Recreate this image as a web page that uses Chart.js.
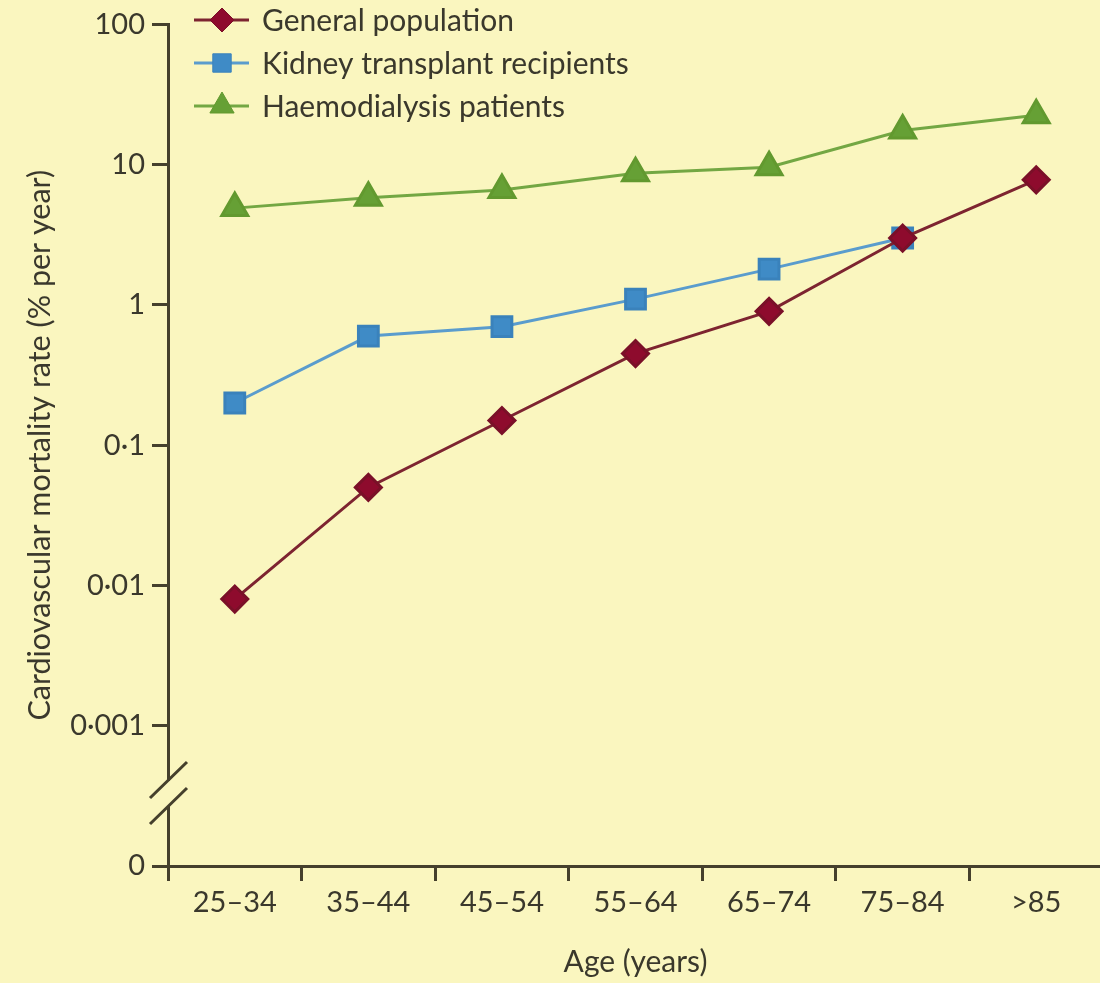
<!DOCTYPE html>
<html>
<head>
<meta charset="utf-8">
<script src="https://cdn.jsdelivr.net/npm/chart.js@4"></script>
<style>
    html, body { margin: 0; padding: 0; background: #faf6bf; overflow: hidden; }
    #wrap { width: 1121px; height: 983px; }
</style>
</head>
<body>
<div id="wrap"><canvas id="popChart" width="1121" height="983"></canvas></div>
<script>
// age groups on x axis
let ageGroups = ['25–34', '35–44', '45–54', '55–64', '65–74', '75–84', '>85']

// % per year (log scale)
let generalPop = [0.008, 0.05, 0.15, 0.45, 0.9, 3.0, 7.8]
let kidneyTx = [0.2, 0.6, 0.7, 1.1, 1.8, 3.0, null]
let haemodialysis = [4.9, 5.8, 6.6, 8.7, 9.6, 17.5, 22.5]

// y ticks, the lowest one stands for "0" below the axis break
let yTickValues = [0.0001, 0.001, 0.01, 0.1, 1, 10, 100]
let yTickLabels = ['0', '0·001', '0·01', '0·1', '1', '10', '100']

let seriesNames = ['General population', 'Kidney transplant recipients', 'Haemodialysis patients']

const BG = '#faf6bf'
const AXIS = '#45402c'
const TEXT = '#3a382c'
const FONT = 'Lato'

let datasets = [
    {
        label: seriesNames[0],
        data: generalPop,
        borderColor: '#7d2430',
        backgroundColor: '#8e0b2d',
        pointBorderColor: '#7a1028',
        pointStyle: 'rectRot',
        pointRadius: 13,
        borderWidth: 3
    },
    {
        label: seriesNames[1],
        data: kidneyTx,
        borderColor: '#5a9ccd',
        backgroundColor: '#3f8bc6',
        pointBorderColor: '#3a82bb',
        pointStyle: 'rect',
        pointRadius: 14,
        borderWidth: 3
    },
    {
        label: seriesNames[2],
        data: haemodialysis,
        borderColor: '#73a743',
        backgroundColor: '#66a035',
        pointBorderColor: '#62992f',
        pointStyle: 'triangle',
        pointRadius: 15,
        borderWidth: 3
    }
]

// legend with line + marker, drawn top left inside plot
const lineLegend = {
    id: 'lineLegend',
    afterDraw(chart) {
        let ctx = chart.ctx
        let rows = [20, 63, 106]
        ctx.save()
        for (let i in chart.data.datasets) {
            let ds = chart.data.datasets[i]
            let y = rows[i]
            ctx.strokeStyle = ds.borderColor
            ctx.lineWidth = 3
            ctx.beginPath()
            ctx.moveTo(194, y)
            ctx.lineTo(249, y)
            ctx.stroke()
            ctx.fillStyle = ds.backgroundColor
            ctx.strokeStyle = ds.pointBorderColor
            ctx.lineWidth = 1
            Chart.helpers.drawPoint(ctx, {
                pointStyle: ds.pointStyle,
                radius: ds.pointRadius - 1,
                rotation: 0,
                borderWidth: 1
            }, 222, y)
            ctx.fillStyle = TEXT
            ctx.font = '30px ' + FONT
            ctx.textAlign = 'left'
            ctx.textBaseline = 'middle'
            ctx.fillText(ds.label, 262, y + 1)
        }
        ctx.restore()
    }
}

// axis break marks between 0 and 0.001
const axisBreak = {
    id: 'axisBreak',
    afterDraw(chart) {
        let ctx = chart.ctx
        let x = chart.chartArea.left
        ctx.save()
        ctx.fillStyle = BG
        ctx.fillRect(x - 3, 781, 6, 25)
        ctx.strokeStyle = AXIS
        ctx.lineWidth = 3
        ctx.beginPath()
        ctx.moveTo(x - 18, 798)
        ctx.lineTo(x + 19, 762)
        ctx.moveTo(x - 18, 824)
        ctx.lineTo(x + 19, 788)
        ctx.stroke()
        ctx.restore()
    }
}

const bgPlugin = {
    id: 'bgPlugin',
    beforeDraw(chart) {
        let ctx = chart.ctx
        ctx.save()
        ctx.fillStyle = BG
        ctx.fillRect(0, 0, chart.width, chart.height)
        ctx.restore()
    }
}

const config = {
    type: 'line',
    data: {
        labels: ageGroups,
        datasets: datasets
    },
    options: {
        responsive: false,
        animation: false,
        spanGaps: false,
        layout: {
            padding: {top: 24, right: 0, bottom: 0, left: 0}
        },
        plugins: {
            legend: {display: false},
            tooltip: {enabled: false}
        },
        elements: {
            line: {tension: 0},
            point: {borderWidth: 1}
        },
        scales: {
            x: {
                type: 'category',
                offset: true,
                grid: {
                    offset: true,
                    drawOnChartArea: false,
                    drawTicks: true,
                    tickLength: 15,
                    tickWidth: 3,
                    tickColor: AXIS
                },
                border: {display: true, color: AXIS, width: 3},
                ticks: {
                    color: TEXT,
                    font: {family: FONT, size: 29},
                    padding: 4,
                    maxRotation: 0
                },
                title: {
                    display: true,
                    text: 'Age (years)',
                    color: TEXT,
                    font: {family: FONT, size: 30},
                    padding: {top: 0, bottom: 3}
                },
                afterFit(scale) {
                    scale.height = 117
                }
            },
            y: {
                type: 'logarithmic',
                min: 0.0001,
                max: 100,
                grid: {
                    drawOnChartArea: false,
                    drawTicks: true,
                    tickLength: 16,
                    tickWidth: 3,
                    tickColor: AXIS
                },
                border: {display: true, color: AXIS, width: 3},
                afterBuildTicks(scale) {
                    scale.ticks = yTickValues.map(v => ({value: v, major: true}))
                },
                ticks: {
                    color: TEXT,
                    font: {family: FONT, size: 29},
                    padding: 7,
                    callback: (value, index) => yTickLabels[index]
                },
                title: {
                    display: true,
                    text: 'Cardiovascular mortality rate (% per year)',
                    color: TEXT,
                    font: {family: FONT, size: 30.5},
                    padding: {top: 22, bottom: 0}
                },
                afterFit(scale) {
                    scale.width = 168
                }
            }
        }
    },
    plugins: [bgPlugin, axisBreak, lineLegend]
}

let popCanvas = document.getElementById('popChart').getContext('2d')
let lineChart = new Chart(popCanvas, config)
</script>
</body>
</html>
